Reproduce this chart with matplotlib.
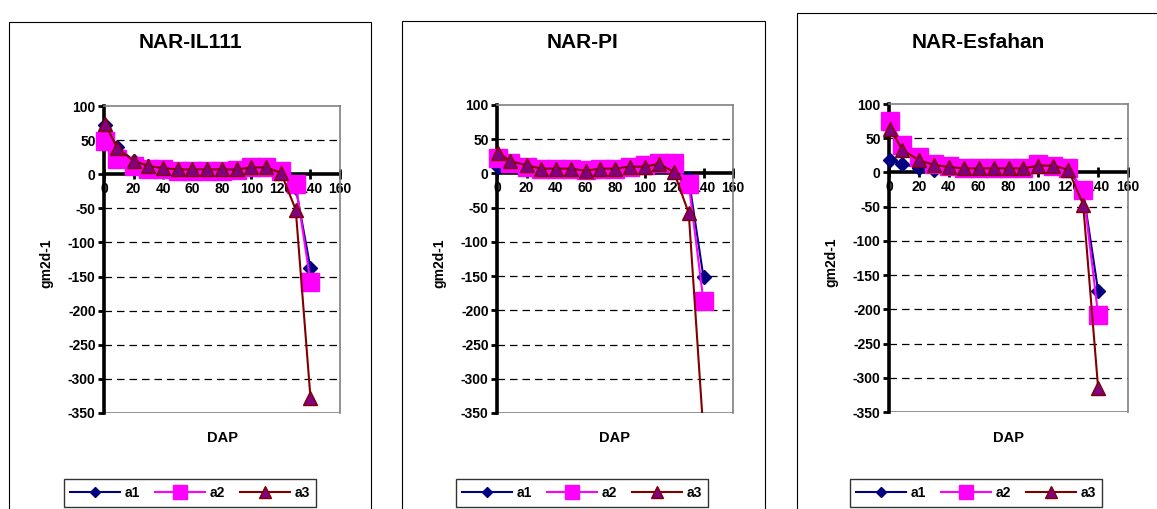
import matplotlib
matplotlib.use("Agg")
import matplotlib.pyplot as plt
from matplotlib.patches import Rectangle

plt.rcParams["font.family"] = ["Liberation Sans", "DejaVu Sans"]
plt.rcParams["font.weight"] = "bold"
plt.rcParams["axes.unicode_minus"] = False

# days after planting
dap = [1, 9, 20, 30, 40, 50, 60, 70, 80, 90, 100, 110, 120, 130, 140]

il111_a1 = [72, 40, 20, 12, 9, 7, 7, 7, 7, 7, 10, 10, 3, -20, -138]
il111_a2 = [48, 23, 12, 8, 7, 5, 5, 5, 5, 6, 10, 10, 5, -15, -158]
il111_a3 = [73, 38, 20, 12, 9, 7, 7, 7, 7, 7, 10, 10, 2, -52, -328]

pi_a1 = [10, 15, 10, 7, 6, 6, 5, 6, 7, 9, 12, 18, 10, -8, -152]
pi_a2 = [22, 15, 10, 7, 6, 6, 5, 6, 7, 9, 12, 15, 15, -15, -187]
pi_a3 = [30, 18, 12, 7, 7, 7, 4, 7, 7, 10, 10, 14, 2, -58, -380]

esf_a1 = [18, 12, 7, 4, 5, 5, 5, 5, 5, 6, 10, 10, 5, -28, -173]
esf_a2 = [75, 40, 23, 12, 10, 6, 6, 6, 6, 7, 12, 10, 6, -26, -208]
esf_a3 = [63, 33, 18, 11, 8, 6, 6, 6, 6, 6, 10, 10, 4, -47, -315]

titles = ["NAR-IL111", "NAR-PI", "NAR-Esfahan"]
series = [
    (il111_a1, il111_a2, il111_a3),
    (pi_a1, pi_a2, pi_a3),
    (esf_a1, esf_a2, esf_a3),
]
series_names = ["a1", "a2", "a3"]

W, H = 1157, 509
fig = plt.figure(figsize=(W / 100, H / 100), dpi=100)

# plot-area pixel boxes (left, right, top, bottom) and outer chart frames
plot_boxes = [(104, 340, 106, 413), (497, 733, 105, 413), (889, 1128, 104, 412)]
frames = [(9, 371, 22), (402, 765, 21), (797, 1160, 13)]
title_x = [190, 583, 978]
legend_x = [190, 582, 976]


def fx(px):
    return px / W


def fy(py):
    return 1 - py / H


for i, ((l, r, t, b), (fl, fr, ft), title, (s1, s2, s3)) in enumerate(
        zip(plot_boxes, frames, titles, series)):
    fig.add_artist(Rectangle((fx(fl), fy(H + 5)), fx(fr - fl), (H + 5 - ft) / H,
                             transform=fig.transFigure, fill=False,
                             ec="black", lw=0.8))

    ax = fig.add_axes([fx(l), fy(b), fx(r - l), (b - t) / H])
    ax.set_xlim(0, 160)
    ax.set_ylim(-350, 100)

    for y in range(-300, 100, 50):
        if y != 0:
            ax.axhline(y, color="black", lw=0.9, ls=(0, (6, 4)), zorder=1)
    ax.axhline(-350, color="#808080", lw=1.2, zorder=1)

    # markers may spill over the sides, but lines stop at the bottom edge
    clip = Rectangle((-0.2, 0), 1.4, 1.3, transform=ax.transAxes)
    styles = [
        dict(color="#000080", marker="D", ms=7, mfc="#000080", mec="#000080", zorder=3),
        dict(color="#FF00FF", marker="s", ms=12.5, mfc="#FF00FF", mec="#FF00FF", zorder=4),
        dict(color="#800000", marker="^", ms=10.5, mfc="#800080", mec="#800000",
             mew=1.0, zorder=5),
    ]
    for vals, name, st in zip((s1, s2, s3), series_names, styles):
        line, = ax.plot(dap, vals, lw=1.5, label=name, **st)
        line.set_clip_path(clip)

    for side in ("top", "right"):
        ax.spines[side].set_color("#808080")
        ax.spines[side].set_linewidth(1.2)
    ax.spines["left"].set_linewidth(2.6)
    ax.spines["bottom"].set_position(("data", 0))
    ax.spines["bottom"].set_linewidth(2.6)
    ax.spines["bottom"].set_zorder(2)

    ax.set_xticks(range(0, 161, 20))
    ax.set_yticks(range(-350, 101, 50))
    ax.tick_params(axis="x", direction="inout", length=7, width=2,
                   labelsize=10, pad=2)
    ax.tick_params(axis="y", direction="out", length=4, width=2,
                   labelsize=10, pad=2)
    for lab in ax.get_xticklabels() + ax.get_yticklabels():
        lab.set_fontweight("bold")

    cx = (l + r) / 2
    fig.text(fx(l - 58), fy((t + b) / 2 + 4), "gm2d-1", rotation=90,
             ha="center", va="center", fontsize=10, fontweight="bold")
    fig.text(fx(cx), fy(438), "DAP", ha="center", va="center",
             fontsize=10.5, fontweight="bold")
    fig.text(fx(title_x[i]), fy(43), title, ha="center", va="center",
             fontsize=15, fontweight="bold")

    leg = ax.legend(loc="center", bbox_to_anchor=(fx(legend_x[i]), fy(493)),
                    bbox_transform=fig.transFigure, ncol=3, fontsize=10,
                    frameon=True, fancybox=False, edgecolor="black",
                    handlelength=3.6, columnspacing=1.1, handletextpad=0.3,
                    borderpad=0.5, markerscale=0.8)
    leg.get_frame().set_linewidth(1.0)
    for txt in leg.get_texts():
        txt.set_fontweight("bold")

fig.savefig("out.png", dpi=100)
